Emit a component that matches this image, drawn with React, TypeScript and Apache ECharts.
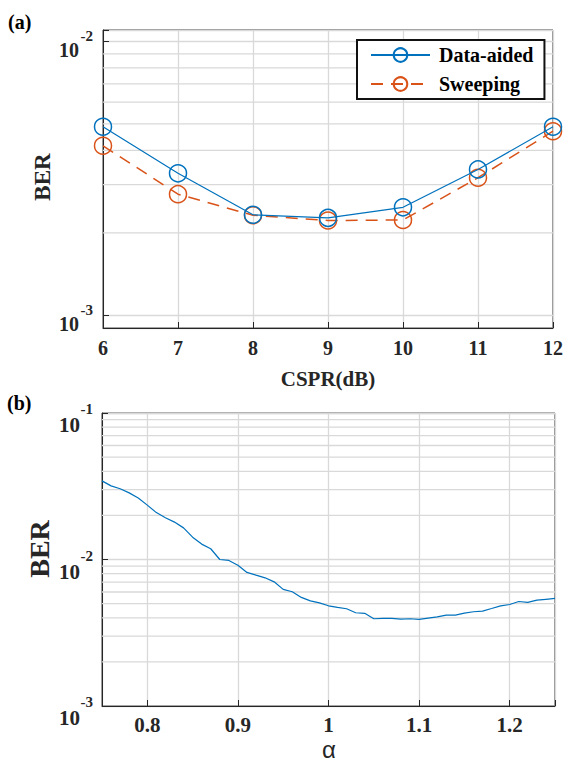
import React, { useEffect, useRef } from 'react';
import * as echarts from 'echarts';

// ---------- data ----------
const csprValues = [6, 7, 8, 9, 10, 11, 12];
const dataAidedBER = [0.00488, 0.0033, 0.00233, 0.00227, 0.00248, 0.00341, 0.00488];
const sweepingBER = [0.00416, 0.00277, 0.00232, 0.00222, 0.00223, 0.00318, 0.0047];

const alphaValues = [
  0.75, 0.76, 0.77, 0.78, 0.79, 0.8, 0.81, 0.82, 0.83, 0.84, 0.85, 0.86, 0.87, 0.88, 0.89,
  0.9, 0.91, 0.92, 0.93, 0.94, 0.95, 0.96, 0.97, 0.98, 0.99, 1.0, 1.01, 1.02, 1.03, 1.04,
  1.05, 1.06, 1.07, 1.08, 1.09, 1.1, 1.11, 1.12, 1.13, 1.14, 1.15, 1.16, 1.17, 1.18, 1.19,
  1.2, 1.21, 1.22, 1.23, 1.24, 1.25,
];
const alphaBER = [
  0.0344, 0.0318, 0.0304, 0.0285, 0.0263, 0.0235, 0.0209, 0.0193, 0.018, 0.01644, 0.0142,
  0.01274, 0.01184, 0.01, 0.00985, 0.00914, 0.00816, 0.00782, 0.0075, 0.00704, 0.00625,
  0.00602, 0.00551, 0.00522, 0.00506, 0.00483, 0.00471, 0.00461, 0.00433, 0.00429, 0.00394,
  0.00396, 0.00396, 0.00392, 0.00394, 0.0039, 0.00398, 0.00406, 0.00417, 0.00417, 0.00431,
  0.0044, 0.00444, 0.00463, 0.00483, 0.00493, 0.00517, 0.0051, 0.00528, 0.00535, 0.00542,
];

const csprRange = [6, 12];
const alphaRange = [0.75, 1.25];
const topBERRange = [0.0009, 0.011];
const bottomBERRange = [0.001, 0.1];
const topMinorGrid = [0.002, 0.003, 0.004, 0.005, 0.006, 0.007, 0.008, 0.009];
const bottomMinorGrid = [
  0.002, 0.003, 0.004, 0.005, 0.006, 0.007, 0.008, 0.009,
  0.02, 0.03, 0.04, 0.05, 0.06, 0.07, 0.08, 0.09,
];
const alphaTickLabels = [0.8, 0.9, 1, 1.1, 1.2];
const legendNames = ['Data-aided', 'Sweeping'];

// ---------- styles ----------
const SERIF = "'Liberation Serif', 'Times New Roman', serif";
const SANS = "'Liberation Sans', Arial, sans-serif";
const AXIS_COLOR = '#262626';
const GRID_COLOR = '#d9d9d9';
const BLUE = '#0072BD';
const ORANGE = '#D95319';

function powLabel(v: number) {
  const l = Math.log10(v);
  const r = Math.round(l);
  if (Math.abs(l - r) > 1e-6) return '';
  return `{e|${r}}\n{b|10}`;
}

function yAxisBase(gridIndex: number, range: number[], bSize: number, bPadRight: number, bLH: number, padTop: number, margin: number) {
  return {
    gridIndex,
    type: 'log',
    logBase: 10,
    min: range[0],
    max: range[1],
    axisLine: { show: true, lineStyle: { color: AXIS_COLOR, width: 1 } },
    axisTick: { show: true, inside: true, length: 6, lineStyle: { color: AXIS_COLOR } },
    splitLine: { show: true, lineStyle: { color: GRID_COLOR, width: 1.3 } },
    axisLabel: {
      formatter: powLabel,
      margin,
      padding: [padTop, 0, 0, 0],
      rich: {
        e: { fontFamily: SERIF, fontWeight: 'bold', fontSize: 15, lineHeight: 12, color: AXIS_COLOR },
        b: {
          fontFamily: SERIF, fontWeight: 'bold', fontSize: bSize, lineHeight: bLH, color: AXIS_COLOR,
          padding: [0, bPadRight, 0, 0],
        },
      },
    },
  };
}

function gridLineSeries(xi: number, yi: number, values: number[], xRange: number[]) {
  return values.map((v) => ({
    type: 'line',
    xAxisIndex: xi,
    yAxisIndex: yi,
    data: [[xRange[0], v], [xRange[1], v]],
    symbol: 'none',
    silent: true,
    z: 1,
    lineStyle: { color: GRID_COLOR, width: 1.3, type: 'solid' },
    emphasis: { disabled: true },
  }));
}

export default function App() {
  const ref = useRef<HTMLDivElement>(null);

  useEffect(() => {
    if (!ref.current) return;
    const chart = echarts.init(ref.current, undefined, { renderer: 'svg' });

    const topA = csprValues.map((x, i) => [x, dataAidedBER[i]]);
    const topS = csprValues.map((x, i) => [x, sweepingBER[i]]);
    const bottom = alphaValues.map((x, i) => [x, alphaBER[i]]);

    const axisX = (gridIndex: number, range: number[]) => ({
      gridIndex,
      type: 'value',
      min: range[0],
      max: range[1],
      axisLine: { show: true, onZero: false, lineStyle: { color: AXIS_COLOR } },
      axisTick: { show: true, inside: true, length: 6, lineStyle: { color: AXIS_COLOR } },
      splitLine: { show: true, lineStyle: { color: GRID_COLOR, width: 1.3 } },
    });

    const option: any = {
      animation: false,
      backgroundColor: '#ffffff',
      grid: [
        { left: 103, top: 30, width: 450, height: 298, show: true, borderColor: AXIS_COLOR, borderWidth: 1, backgroundColor: 'transparent' },
        { left: 102, top: 413, width: 453, height: 293, show: true, borderColor: AXIS_COLOR, borderWidth: 1, backgroundColor: 'transparent' },
      ],
      xAxis: [
        {
          ...axisX(0, csprRange),
          interval: 1,
          axisLabel: { fontFamily: SERIF, fontWeight: 'bold', fontSize: 20, color: AXIS_COLOR, margin: 10 },
        },
        {
          ...axisX(1, alphaRange),
          splitNumber: 5,
          axisLabel: {
            fontFamily: SERIF,
            fontWeight: 'bold',
            fontSize: 21,
            color: AXIS_COLOR,
            margin: 8,
            formatter: (v: number) => {
              const r = Number(v.toFixed(3));
              return alphaTickLabels.some((t) => Math.abs(t - r) < 1e-6) ? String(r) : '';
            },
          },
        },
      ],
      yAxis: [
        yAxisBase(0, topBERRange, 20, 14, 16, 5, 10),
        yAxisBase(1, bottomBERRange, 21, 13, 20, 12, 9),
      ],
      legend: {
        data: legendNames,
        orient: 'vertical',
        left: 357,
        top: 40,
        itemWidth: 59,
        itemHeight: 17,
        itemGap: 9,
        padding: [5, 11, 5, 13],
        borderColor: '#111111',
        borderWidth: 2,
        backgroundColor: '#ffffff',
        selectedMode: false,
        textStyle: { fontFamily: SERIF, fontWeight: 'bold', fontSize: 20, color: '#000000', padding: [0, 0, 0, 4] },
      },
      series: [
        ...gridLineSeries(0, 0, topMinorGrid, csprRange),
        ...gridLineSeries(1, 1, bottomMinorGrid, alphaRange),
        {
          name: legendNames[0],
          type: 'line',
          xAxisIndex: 0,
          yAxisIndex: 0,
          data: topA,
          z: 4,
          symbol: 'circle',
          symbolSize: 17,
          color: BLUE,
          lineStyle: { color: BLUE, width: 1.2 },
          itemStyle: { color: 'rgba(255,255,255,0)', borderColor: BLUE, borderWidth: 1.5 },
        },
        {
          name: legendNames[1],
          type: 'line',
          xAxisIndex: 0,
          yAxisIndex: 0,
          data: topS,
          z: 3,
          symbol: 'circle',
          symbolSize: 17,
          color: ORANGE,
          lineStyle: { color: ORANGE, width: 1.5, type: [12, 8] },
          itemStyle: { color: 'rgba(255,255,255,0)', borderColor: ORANGE, borderWidth: 1.5 },
        },
        {
          name: 'BER vs alpha',
          type: 'line',
          xAxisIndex: 1,
          yAxisIndex: 1,
          data: bottom,
          z: 4,
          symbol: 'none',
          color: BLUE,
          lineStyle: { color: BLUE, width: 1.2 },
        },
      ],
      graphic: [
        { type: 'text', x: 8, y: 22, style: { text: '(a)', fontFamily: SERIF, fontWeight: 'bold', fontSize: 20, fill: '#000', align: 'left', verticalAlign: 'middle' } },
        { type: 'text', x: 42, y: 177, rotation: Math.PI / 2, style: { text: 'BER', fontFamily: SERIF, fontWeight: 'bold', fontSize: 23, fill: AXIS_COLOR, align: 'center', verticalAlign: 'middle' } },
        { type: 'text', x: 328, y: 379, style: { text: 'CSPR(dB)', fontFamily: SERIF, fontWeight: 'bold', fontSize: 21, fill: AXIS_COLOR, align: 'center', verticalAlign: 'middle' } },
        { type: 'text', x: 7, y: 403, style: { text: '(b)', fontFamily: SERIF, fontWeight: 'bold', fontSize: 20, fill: '#000', align: 'left', verticalAlign: 'middle' } },
        { type: 'text', x: 39, y: 549, rotation: Math.PI / 2, style: { text: 'BER', fontFamily: SERIF, fontWeight: 'bold', fontSize: 28, fill: AXIS_COLOR, align: 'center', verticalAlign: 'middle' } },
        { type: 'text', x: 329, y: 749, style: { text: 'α', fontFamily: SANS, fontSize: 24, lineHeight: 16, fill: AXIS_COLOR, align: 'center', verticalAlign: 'middle' } },
      ],
    };

    chart.setOption(option);
    return () => chart.dispose();
  }, []);

  return (
    <div
      ref={ref}
      style={{ position: 'fixed', left: 0, top: 0, width: 566, height: 764, background: '#fff' }}
    />
  );
}
